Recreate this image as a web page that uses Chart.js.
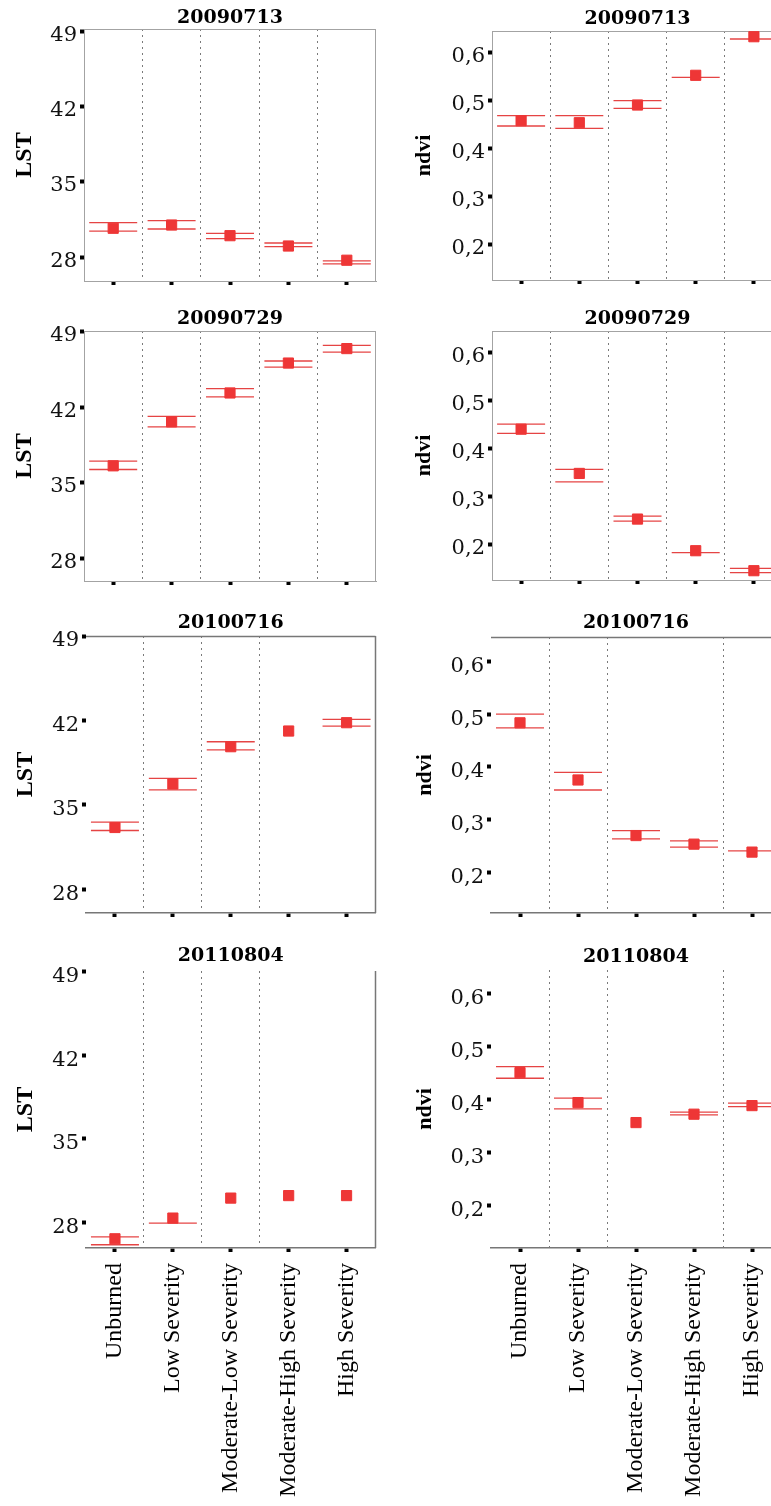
<!DOCTYPE html>
<html><head><meta charset="utf-8">
<script src="https://cdn.jsdelivr.net/npm/chart.js@4.4.1/dist/chart.umd.min.js"></script>
<style>
html,body{margin:0;padding:0;background:#fff;overflow:hidden;width:771px;height:1506px;}
#wrap{position:relative;width:771px;height:1506px;overflow:hidden;background:#fff;}
canvas{position:absolute;display:block;}
</style></head><body><div id="wrap"></div>
<script>
// ---------- data ----------
const CATEGORIES = ['Unburned', 'Low Severity', 'Moderate-Low Severity', 'Moderate-High Severity', 'High Severity'];
const DATES = ['20090713', '20090729', '20100716', '20110804'];
const LST_TICKS = [28, 35, 42, 49];
const NDVI_TICKS = [0.2, 0.3, 0.4, 0.5, 0.6];

const LST_20090713_MEAN  = [30.69, 30.99, 30.00, 29.04, 27.72];
const LST_20090713_UPPER = [31.21, 31.39, 30.22, 29.32, 27.66];
const LST_20090713_LOWER = [30.43, 30.62, 29.72, 28.98, 27.38];

const LST_20090729_MEAN  = [36.57, 40.64, 43.32, 46.09, 47.43];
const LST_20090729_UPPER = [37.00, 41.16, 43.73, 46.28, 47.73];
const LST_20090729_LOWER = [36.23, 40.17, 42.95, 45.72, 47.11];

const LST_20100716_MEAN  = [33.12, 36.73, 39.82, 41.12, 41.81];
const LST_20100716_UPPER = [33.56, 37.20, 40.23, null, 42.09];
const LST_20100716_LOWER = [32.87, 36.24, 39.55, null, 41.53];

const LST_20110804_MEAN  = [26.65, 28.38, 30.05, 30.26, 30.26];
const LST_20110804_UPPER = [26.81, null, null, null, null];
const LST_20110804_LOWER = [26.15, 27.96, null, null, null];

const NDVI_20090713_MEAN  = [0.4575, 0.4533, 0.4902, 0.5521, 0.6325];
const NDVI_20090713_UPPER = [0.4680, 0.4680, 0.4992, null, null];
const NDVI_20090713_LOWER = [0.4465, 0.4417, 0.4833, 0.5479, 0.6277];

const NDVI_20090729_MEAN  = [0.4402, 0.3479, 0.2527, 0.1867, 0.1450];
const NDVI_20090729_UPPER = [0.4506, 0.3563, 0.2590, null, 0.1500];
const NDVI_20090729_LOWER = [0.4313, 0.3304, 0.2485, 0.1825, 0.1408];

const NDVI_20100716_MEAN  = [0.4837, 0.3752, 0.2697, 0.2534, 0.2383];
const NDVI_20100716_UPPER = [0.5002, 0.3898, 0.2792, 0.2597, 0.2407];
const NDVI_20100716_LOWER = [0.4742, 0.3562, 0.2634, 0.2477, null];

const NDVI_20110804_MEAN  = [0.4505, 0.3940, 0.3563, 0.3721, 0.3883];
const NDVI_20110804_UPPER = [0.4618, 0.4023, null, 0.3759, 0.3928];
const NDVI_20110804_LOWER = [0.4399, 0.3821, null, 0.3708, 0.3864];

const lstFmt = v => String(v);
const ndviFmt = v => v.toFixed(1).replace('.', ',');

const SERIES = [
  {title: DATES[0], yTitle: 'LST',  ticks: LST_TICKS,  fmt: lstFmt,  mean: LST_20090713_MEAN,  upper: LST_20090713_UPPER,  lower: LST_20090713_LOWER},
  {title: DATES[0], yTitle: 'ndvi', ticks: NDVI_TICKS, fmt: ndviFmt, mean: NDVI_20090713_MEAN, upper: NDVI_20090713_UPPER, lower: NDVI_20090713_LOWER},
  {title: DATES[1], yTitle: 'LST',  ticks: LST_TICKS,  fmt: lstFmt,  mean: LST_20090729_MEAN,  upper: LST_20090729_UPPER,  lower: LST_20090729_LOWER},
  {title: DATES[1], yTitle: 'ndvi', ticks: NDVI_TICKS, fmt: ndviFmt, mean: NDVI_20090729_MEAN, upper: NDVI_20090729_UPPER, lower: NDVI_20090729_LOWER},
  {title: DATES[2], yTitle: 'LST',  ticks: LST_TICKS,  fmt: lstFmt,  mean: LST_20100716_MEAN,  upper: LST_20100716_UPPER,  lower: LST_20100716_LOWER},
  {title: DATES[2], yTitle: 'ndvi', ticks: NDVI_TICKS, fmt: ndviFmt, mean: NDVI_20100716_MEAN, upper: NDVI_20100716_UPPER, lower: NDVI_20100716_LOWER},
  {title: DATES[3], yTitle: 'LST',  ticks: LST_TICKS,  fmt: lstFmt,  mean: LST_20110804_MEAN,  upper: LST_20110804_UPPER,  lower: LST_20110804_LOWER},
  {title: DATES[3], yTitle: 'ndvi', ticks: NDVI_TICKS, fmt: ndviFmt, mean: NDVI_20110804_MEAN, upper: NDVI_20110804_UPPER, lower: NDVI_20110804_LOWER}
];

// ---------- layout (positions / styles) ----------
const LIGHT = '#a3a3a3', DARK = '#777';
const LAYOUT = [
  {canvas:[0,0,384,299],    plot:[84,29,376,281],     titleY:18.5,  yRange:[25.79,49.2],   yTitleX:25,  lo:4, yBorder:true,  top:true,  right:true,  frameColor:LIGHT, frameW:1,   seps:[0,1,1,1,1], showX:false},
  {canvas:[400,0,390,298],  plot:[492,31,783,280],    titleY:19.5,  yRange:[0.1256,0.6444], yTitleX:424, lo:4, yBorder:true,  top:true,  right:true,  frameColor:LIGHT, frameW:1,   seps:[0,1,1,1,1], showX:false},
  {canvas:[0,300,384,299],  plot:[84,331,376,581],    titleY:319.5, yRange:[25.9,49.06],   yTitleX:25,  lo:4, yBorder:true,  top:true,  right:true,  frameColor:LIGHT, frameW:1,   seps:[0,1,1,1,1], showX:false},
  {canvas:[400,300,390,298],plot:[492,331,783,580],   titleY:319.5, yRange:[0.1256,0.645], yTitleX:424, lo:4, yBorder:true,  top:true,  right:true,  frameColor:LIGHT, frameW:1,   seps:[0,1,1,1,1], showX:false},
  {canvas:[0,600,384,331],  plot:[86,636,375.5,913],  titleY:623.5, yRange:[26.03,49.0],   yTitleX:26,  lo:5, yBorder:false, top:true,  right:true,  frameColor:DARK,  frameW:1.5, seps:[0,1,1,1,0], showX:false},
  {canvas:[400,600,390,331],plot:[491,637,781,913],   titleY:623.5, yRange:[0.1227,0.6466],yTitleX:425, lo:5, yBorder:false, top:true,  right:true,  frameColor:DARK,  frameW:1.5, seps:[0,1,1,0,1], showX:false},
  {canvas:[0,932,394,574],  plot:[86,971,375.5,1248], titleY:956.5, yRange:[25.88,49.03],  yTitleX:26,  lo:5, yBorder:false, top:false, right:true,  frameColor:DARK,  frameW:1.5, seps:[0,1,1,1,0], showX:true},
  {canvas:[400,932,400,574],plot:[491,970,781,1248],  titleY:957.5, yRange:[0.1198,0.644], yTitleX:425, lo:5, yBorder:false, top:false, right:false, frameColor:DARK,  frameW:1.5, seps:[0,1,1,0,1], showX:true}
];

const RED = '#ee3636';
const CI_RED = 'rgba(226,48,48,0.9)';

const framePlugin = {
  id: 'frame',
  beforeDatasetsDraw(chart, args, opts) {
    const {ctx, chartArea: a} = chart;
    ctx.save();
    ctx.strokeStyle = opts.color;
    ctx.lineWidth = opts.width;
    ctx.beginPath();
    const t = Math.round(a.top) + 0.5, r = Math.round(a.right) - 0.5;
    if (opts.top) { ctx.moveTo(a.left, t); ctx.lineTo(a.right, t); }
    if (opts.right) { ctx.moveTo(r, a.top); ctx.lineTo(r, a.bottom); }
    ctx.stroke();
    ctx.restore();
  }
};

const wrap = document.getElementById('wrap');

function makeChart(i) {
  const L = LAYOUT[i], S = SERIES[i];
  const [cl, ct, cw, ch] = L.canvas;
  const [pl, pt, pr, pb] = L.plot;
  const canvas = document.createElement('canvas');
  canvas.width = cw; canvas.height = ch;
  canvas.style.left = cl + 'px'; canvas.style.top = ct + 'px';
  canvas.style.width = cw + 'px'; canvas.style.height = ch + 'px';
  wrap.appendChild(canvas);
  const tfs = 19;
  const yfs = S.yTitle === 'LST' ? 24 : 22;
  new Chart(canvas, {
    type: 'line',
    data: {
      labels: CATEGORIES,
      datasets: [
        {label: 'mean', data: S.mean, showLine: false, pointStyle: 'rect', pointRadius: 7.2,
         pointBackgroundColor: RED, pointBorderColor: RED, pointBorderWidth: 1, clip: false},
        {label: 'upper', data: S.upper, showLine: false, pointStyle: 'line', pointRadius: 24,
         pointBorderColor: CI_RED, pointBorderWidth: 1.3, clip: false},
        {label: 'lower', data: S.lower, showLine: false, pointStyle: 'line', pointRadius: 24,
         pointBorderColor: CI_RED, pointBorderWidth: 1.3, clip: false}
      ]
    },
    options: {
      responsive: false, animation: false, devicePixelRatio: 1, events: [],
      layout: {autoPadding: false, padding: {left: 0, top: 0, right: cl + cw - pr, bottom: 0}},
      plugins: {
        legend: {display: false},
        tooltip: {enabled: false},
        title: {display: true, text: S.title, fullSize: false, color: '#000',
          font: {family: 'DejaVu Serif', weight: 'bold', size: tfs, lineHeight: 1},
          padding: {top: L.titleY - ct - tfs / 2, bottom: pt - L.titleY - tfs / 2}},
        frame: {top: L.top, right: L.right, color: L.frameColor, width: L.frameW}
      },
      scales: {
        x: {
          type: 'category', position: 'bottom', offset: true,
          grid: {display: true, offset: false, drawOnChartArea: false, drawTicks: true,
                 tickLength: 4, tickWidth: 4, tickColor: '#000'},
          border: {display: true, color: L.frameColor, width: L.frameW},
          ticks: {display: L.showX, autoSkip: false, minRotation: 90, maxRotation: 90, padding: 11,
                  color: '#000', font: {family: 'Liberation Serif', size: 24}},
          afterFit: s => { s.height = ct + ch - pb; }
        },
        xb: {
          type: 'category', position: 'bottom', offset: true,
          grid: {display: true, offset: true, drawOnChartArea: true, drawTicks: false, lineWidth: 1,
                 color: c => (c.index !== undefined && L.seps[c.index]) ? '#7a7a7a' : 'rgba(0,0,0,0)'},
          border: {display: false, dash: [2, 4]},
          ticks: {display: false},
          afterFit: s => { s.height = 0; }
        },
        y: {
          type: 'linear', position: 'left', min: L.yRange[0], max: L.yRange[1],
          afterBuildTicks: s => { s.ticks = S.ticks.map(v => ({value: v})); },
          ticks: {callback: S.fmt, color: '#111', padding: 3, labelOffset: L.lo,
                  font: {family: 'DejaVu Serif', size: 21}},
          grid: {display: true, drawOnChartArea: false, drawTicks: true,
                 tickLength: 4, tickWidth: 4, tickColor: '#000'},
          border: {display: L.yBorder, color: L.frameColor, width: L.frameW},
          title: {display: true, text: S.yTitle, color: '#000',
                  font: {family: 'Liberation Serif', weight: 'bold', size: yfs},
                  padding: {top: L.yTitleX - cl - yfs * 1.2 / 2, bottom: 0}},
          afterFit: s => { s.width = pl - cl; }
        }
      }
    },
    plugins: [framePlugin]
  });
}

for (let i = 0; i < LAYOUT.length; i++) makeChart(i);
</script>
</body></html>
